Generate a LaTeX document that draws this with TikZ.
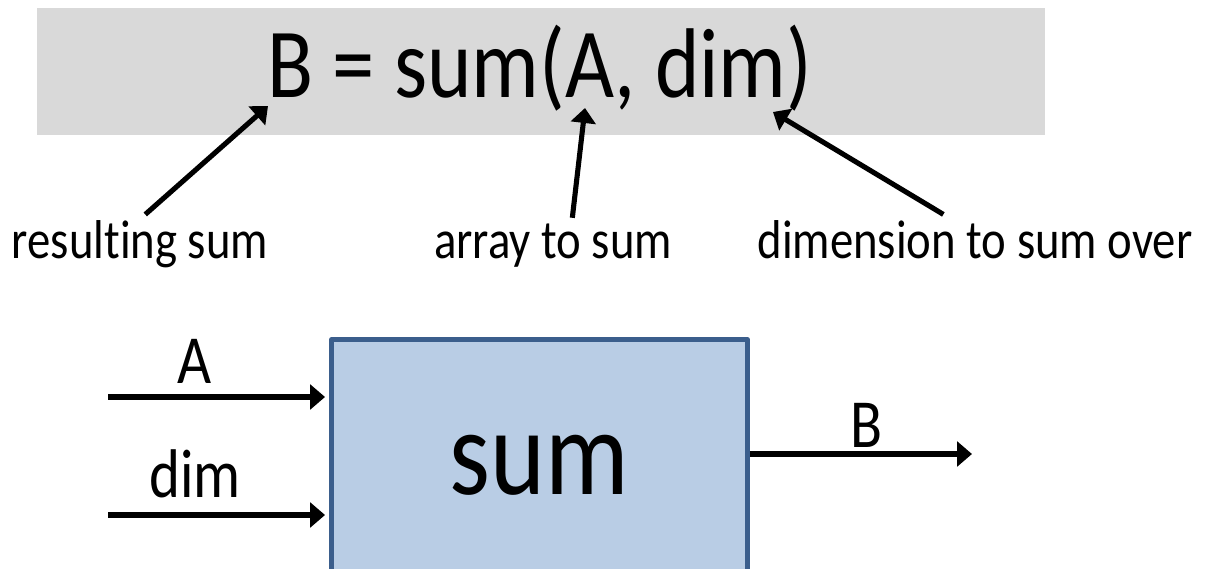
\documentclass[tikz,border=0pt]{standalone}
\usepackage{graphicx}
\usepackage{fontspec}
\setmainfont{Carlito}[Ligatures=NoCommon]
\usetikzlibrary{arrows.meta,positioning,calc}
\definecolor{bargray}{HTML}{D9D9D9}
\definecolor{boxfill}{HTML}{B9CDE5}
\definecolor{boxdraw}{HTML}{3B5E8C}
\newcommand{\tallText}[1]{\scalebox{1}[1.17]{#1}}

\begin{document}
\begin{tikzpicture}[x=0.02cm, y=-0.02cm, >={Triangle[length=8.5pt,width=14pt]},
  pointer/.style={->, line width=2.9pt},
  callout/.style={font=\fontsize{26.6}{32}\selectfont, inner sep=0pt, anchor=base},
  portlabel/.style={font=\fontsize{33.5}{40}\selectfont, inner sep=0pt, anchor=base}]
  \useasboundingbox (0,0) rectangle (1213,568);
  \clip (0,0) rectangle (1213,568);
  % call syntax
  \node[fill=bargray, minimum width=20.16cm, minimum height=2.54cm, inner sep=0pt] (bar) at (541,71.5) {};
  \node[font=\fontsize{48.2}{58}\selectfont, inner sep=0pt, anchor=base] (formula) at (540,97) {\tallText{B = sum(A, dim)}};
  \coordinate (tipB) at (268,106);
  \coordinate (tipA) at (585,108);
  \coordinate (tipdim) at (773,112);
  \node[callout] (lres) at (140,258) {\tallText{resulting sum}};
  \node[callout] (larr) at (553,258) {\tallText{array to sum}};
  \node[callout] (ldim) at (975,258) {\tallText{dimension to sum over}};
  \draw[pointer] ([xshift=3pt,yshift=3pt]lres.north) -- (tipB);
  \draw[pointer] ([xshift=11pt,yshift=3pt]larr.north) -- (tipA);
  \draw[pointer] ([xshift=-18pt,yshift=3pt]ldim.north) -- (tipdim);

  % block
  \node[draw=boxdraw, fill=boxfill, line width=2.8pt, line join=round, minimum width=8.32cm, minimum height=4.7cm,
    text height=43pt, text depth=0pt, font=\fontsize{59.5}{70}\selectfont] (box) at (539.5,457) {\tallText{sum}};
  \coordinate (inA) at (108,397);
  \coordinate (indim) at (108,515);
  \coordinate (outB) at (972,454);
  \draw[pointer, shorten >=2.3pt] (inA) -- (inA -| box.west);
  \draw[pointer, shorten >=2.3pt] (indim) -- (indim -| box.west);
  \draw[pointer] (box.east |- outB) -- (outB);
  \node[portlabel] (lA) at (195,383) {\tallText{A}};
  \node[portlabel] (ldimin) at (195,497) {\tallText{dim}};
  \node[portlabel] (lB) at (866,447) {\tallText{B}};
\end{tikzpicture}
\end{document}
